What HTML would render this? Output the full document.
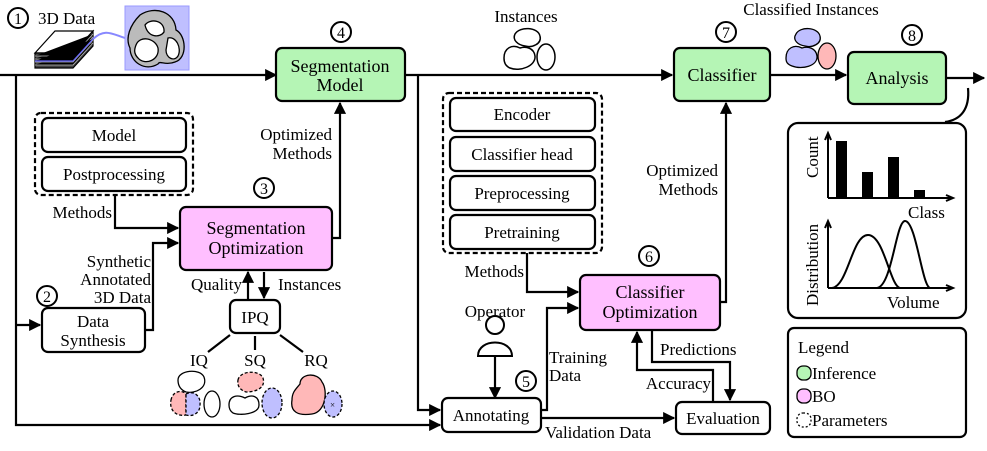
<!DOCTYPE html>
<html><head><meta charset="utf-8"><style>
html,body{margin:0;padding:0;background:#fff;}
svg{display:block;font-family:"Liberation Serif","DejaVu Serif","Times New Roman",serif;}
svg text{font-family:"Liberation Serif","DejaVu Serif","Times New Roman",serif;font-size:17px;fill:#000;}
</style></head><body>
<svg width="987" height="451" viewBox="0 0 987 451" xmlns="http://www.w3.org/2000/svg" font-family="Liberation Serif, DejaVu Serif, serif" style="font-family:'Liberation Serif','DejaVu Serif',serif">
<defs>
<marker id="a" viewBox="0 0 10 10" refX="9" refY="5" markerWidth="5.5" markerHeight="5.5" orient="auto-start-reverse" markerUnits="strokeWidth"><path d="M0,0L10,5L0,10z" fill="#000"/></marker>
</defs>
<g stroke="#000" stroke-width="2.2" fill="none">
<path d="M0,75H276" marker-end="url(#a)"/>
<path d="M405,75H672" marker-end="url(#a)"/>
<path d="M770,75H846" marker-end="url(#a)"/>
<path d="M946,78H984" marker-end="url(#a)"/>
<path d="M16,75V425H440" marker-end="url(#a)"/>
<path d="M16,325H40" marker-end="url(#a)"/>
<path d="M418,75V410H440" marker-end="url(#a)"/>
<path d="M115,195V228H178" marker-end="url(#a)"/>
<path d="M145,330H153V243H178" marker-end="url(#a)"/>
<path d="M332,238H340V103" marker-end="url(#a)"/>
<path d="M248,300V272" marker-end="url(#a)"/>
<path d="M264,272V298" marker-end="url(#a)"/>
<path d="M230,335L208,352M255,336V350M280,335L303,352"/>
<path d="M527,253V292H578" marker-end="url(#a)"/>
<path d="M541,410H547V308H578" marker-end="url(#a)"/>
<path d="M541,418H674" marker-end="url(#a)"/>
<path d="M720,302H726V103" marker-end="url(#a)"/>
<path d="M652,330V362H730V400" marker-end="url(#a)"/>
<path d="M713,402V370H637V332" marker-end="url(#a)"/>
<path d="M495,355V398" marker-end="url(#a)"/>
<path d="M968,88C970,110 960,120 945,122"/>
</g>
<g stroke="#000" stroke-width="2.2">
<rect x="276" y="48" width="129" height="53" rx="6" fill="#b5f5b5"/>
<rect x="674" y="48" width="96" height="53" rx="6" fill="#b5f5b5"/>
<rect x="848" y="52" width="98" height="52" rx="6" fill="#b5f5b5"/>
<rect x="180" y="207" width="152" height="63" rx="6" fill="#ffbfff"/>
<rect x="580" y="275" width="140" height="55" rx="6" fill="#ffbfff"/>
<rect x="35" y="113" width="158" height="82" rx="6" fill="#fff" stroke-dasharray="5,3"/>
<rect x="42" y="118" width="144" height="34" rx="6" fill="#fff"/>
<rect x="42" y="157" width="144" height="34" rx="6" fill="#fff"/>
<rect x="443" y="93" width="159" height="160" rx="6" fill="#fff" stroke-dasharray="5,3"/>
<rect x="450" y="98" width="145" height="33" rx="6" fill="#fff"/>
<rect x="450" y="137" width="145" height="34" rx="6" fill="#fff"/>
<rect x="450" y="176" width="145" height="34" rx="6" fill="#fff"/>
<rect x="450" y="215" width="145" height="34" rx="6" fill="#fff"/>
<rect x="42" y="308" width="103" height="44" rx="6" fill="#fff"/>
<rect x="230" y="300" width="50" height="33" rx="6" fill="#fff"/>
<rect x="442" y="398" width="99" height="34" rx="6" fill="#fff"/>
<rect x="676" y="402" width="94" height="32" rx="6" fill="#fff"/>
<rect x="788" y="123" width="178" height="195" rx="10" fill="#fff"/>
<rect x="788" y="328" width="178" height="109" rx="6" fill="#fff"/>
</g>
<g stroke="#000" stroke-width="2" fill="#fff">
<circle cx="18" cy="18" r="10"/><circle cx="341" cy="32" r="10"/><circle cx="264" cy="188" r="10"/>
<circle cx="47" cy="296" r="10"/><circle cx="526" cy="381" r="10"/><circle cx="649" cy="256" r="10"/>
<circle cx="726" cy="32" r="10"/><circle cx="912" cy="35" r="10"/>
</g>
<g text-anchor="middle">
<text x="18" y="24" style="font-size:16px">1</text><text x="341" y="38" style="font-size:16px">4</text><text x="264" y="194" style="font-size:16px">3</text>
<text x="47" y="302" style="font-size:16px">2</text><text x="526" y="387" style="font-size:16px">5</text><text x="649" y="262" style="font-size:16px">6</text>
<text x="726" y="38" style="font-size:16px">7</text><text x="912" y="41" style="font-size:16px">8</text>
</g>
<g stroke="#000" stroke-width="1.2">
<path d="M35,53L55,31H93L73,53Z" fill="#fff"/>
<path d="M35,53H73L93,31V46L73,68H35Z" fill="#444"/>
<path d="M35,56H73L93,34M35,59H73L93,37M35,62H73L93,40M35,65H73L93,43" stroke="#bbb" stroke-width="0.8"/>
<path d="M35,61H73L93,39" stroke="#66f" stroke-width="1.2"/>
</g>
<path d="M93,39C105,28 112,34 125,38" stroke="#88f" stroke-width="2" fill="none"/>
<rect x="125" y="6" width="64" height="64" fill="#bfbfff" stroke="#99f"/>
<g stroke="#000" stroke-width="1.3">
<path d="M140,15C155,5 175,12 176,30C186,35 188,58 175,62C165,66 160,60 158,64C145,72 130,62 130,48C125,38 130,25 140,15Z" fill="#bbb"/>
<path d="M145,25C150,18 165,20 164,32C160,38 148,38 145,25Z" fill="#fff"/>
<path d="M136,45C140,35 155,38 158,48C160,60 145,66 138,58C134,54 134,50 136,45Z" fill="#fff"/>
<path d="M168,38C176,36 182,48 178,56C174,62 166,58 166,50Z" fill="#fff"/>
</g>
<g stroke="#000" stroke-width="1.5" fill="#fff">
<path d="M515,34C520,26 538,27 540,36C542,44 532,48 525,46C518,45 512,40 515,34Z"/>
<path d="M504,58C504,48 512,44 520,48C526,46 534,48 535,56C536,66 520,72 510,68C505,66 504,62 504,58Z"/>
<ellipse cx="546" cy="57" rx="9" ry="13"/>
</g>
<g stroke="#000" stroke-width="1.3">
<path d="M796,34C800,26 818,27 820,36C822,44 812,48 805,46C798,45 792,40 796,34Z" fill="#bfbfff"/>
<path d="M786,58C786,48 794,44 802,48C808,46 816,48 817,56C818,66 802,70 792,66C787,64 786,62 786,58Z" fill="#bfbfff"/>
<ellipse cx="827" cy="56" rx="9" ry="13" fill="#ffb8b8"/>
</g>
<g stroke="#000" stroke-width="2" fill="#fff">
<circle cx="495" cy="325" r="9"/>
<path d="M478,356C478,338 512,338 512,356Z"/>
</g>
<g stroke="#000" stroke-width="1.3">
<path d="M178,380C178,370 200,368 204,377C208,388 195,394 186,392C181,390 178,386 178,380Z" fill="#fff"/>
<path d="M171,400C173,390 183,390 186,394V415C176,417 169,410 171,400Z" fill="#ffb8b8" stroke-dasharray="3,2"/>
<path d="M186,394C194,390 201,396 200,405C200,413 193,417 186,415Z" fill="#bfbfff" stroke-dasharray="3,2"/>
<ellipse cx="212" cy="404" rx="8" ry="13" fill="#fff"/>
<path d="M238,380C240,370 260,370 263,378C266,388 256,392 246,392C240,390 237,386 238,380Z" fill="#ffb8b8" stroke-dasharray="3,2"/>
<path d="M229,405C229,396 237,394 245,398C252,394 259,396 259,405C259,414 240,416 233,413C230,411 229,408 229,405Z" fill="#fff"/>
<ellipse cx="272" cy="403" rx="10" ry="15" fill="#bfbfff" stroke-dasharray="3,2"/>
<path d="M300,384C300,373 318,372 322,382C328,390 326,412 312,414C298,416 290,412 292,400C292,392 296,389 300,384Z" fill="#ffb8b8"/>
<ellipse cx="333" cy="404" rx="9" ry="13" fill="#bfbfff" stroke-dasharray="3,2"/>
</g>
<text x="330" y="408" style="font-size:9px">×</text>
<g stroke="#000" stroke-width="2" fill="none">
<path d="M828,198V134M825,140L828,133L831,140"/>
<path d="M828,198H952M946,195L953,198L946,201"/>
<path d="M828,288V222M825,228L828,221L831,228"/>
<path d="M828,288H952M946,285L953,288L946,291"/>
<path d="M832,288C848,286 852,235 868,235C884,235 890,286 900,288"/>
<path d="M877,288C892,286 896,221 905,221C916,221 922,286 930,288"/>
</g>
<g fill="#000">
<rect x="836" y="141" width="11" height="57"/><rect x="862" y="172" width="11" height="26"/>
<rect x="888" y="157" width="11" height="41"/><rect x="914" y="190" width="11" height="8"/>
</g>
<text transform="translate(818,178) rotate(-90)">Count</text>
<text transform="translate(818,306) rotate(-90)">Distribution</text>
<text x="908" y="218">Class</text>
<text x="887" y="308">Volume</text>
<text x="798" y="353">Legend</text>
<g stroke="#000" stroke-width="1.3">
<rect x="797" y="366" width="14" height="14" rx="6" fill="#b5f5b5"/>
<rect x="797" y="389" width="14" height="14" rx="6" fill="#ffbfff"/>
<rect x="797" y="413" width="14" height="14" rx="6" fill="#fff" stroke-dasharray="2,2"/>
</g>
<text x="812" y="379">Inference</text>
<text x="812" y="402">BO</text>
<text x="812" y="426">Parameters</text>
<text x="38" y="24">3D Data</text>
<g text-anchor="middle">
<text x="340" y="72" style="font-size:18px">Segmentation</text><text x="340" y="91" style="font-size:18px">Model</text>
<text x="722" y="81" style="font-size:18px">Classifier</text>
<text x="897" y="84" style="font-size:18px">Analysis</text>
<text x="256" y="234" style="font-size:18px">Segmentation</text><text x="256" y="254" style="font-size:18px">Optimization</text>
<text x="650" y="298" style="font-size:18px">Classifier</text><text x="650" y="318" style="font-size:18px">Optimization</text>
<text x="114" y="141">Model</text><text x="114" y="180">Postprocessing</text>
<text x="522" y="120">Encoder</text><text x="522" y="160">Classifier head</text>
<text x="522" y="199">Preprocessing</text><text x="522" y="238">Pretraining</text>
<text x="93" y="327">Data</text><text x="93" y="346">Synthesis</text>
<text x="255" y="323">IPQ</text>
<text x="491" y="421">Annotating</text>
<text x="723" y="424">Evaluation</text>
<text x="526" y="22">Instances</text>
<text x="811" y="15">Classified Instances</text>
<text x="199" y="366">IQ</text><text x="255" y="366">SQ</text><text x="316" y="366">RQ</text>
<text x="495" y="317">Operator</text>
</g>
<g text-anchor="end">
<text x="332" y="140">Optimized</text><text x="332" y="159">Methods</text>
<text x="718" y="176">Optimized</text><text x="718" y="195">Methods</text>
<text x="151" y="267">Synthetic</text><text x="151" y="285">Annotated</text><text x="151" y="303">3D Data</text>
<text x="242" y="290">Quality</text>
<text x="711" y="389">Accuracy</text>
<text x="112" y="218">Methods</text>
<text x="524" y="277">Methods</text>
</g>
<text x="278" y="290">Instances</text>
<text x="549" y="363">Training</text><text x="549" y="381">Data</text>
<text x="660" y="355">Predictions</text>
<text x="545" y="438">Validation Data</text>
</svg>
</body></html>
